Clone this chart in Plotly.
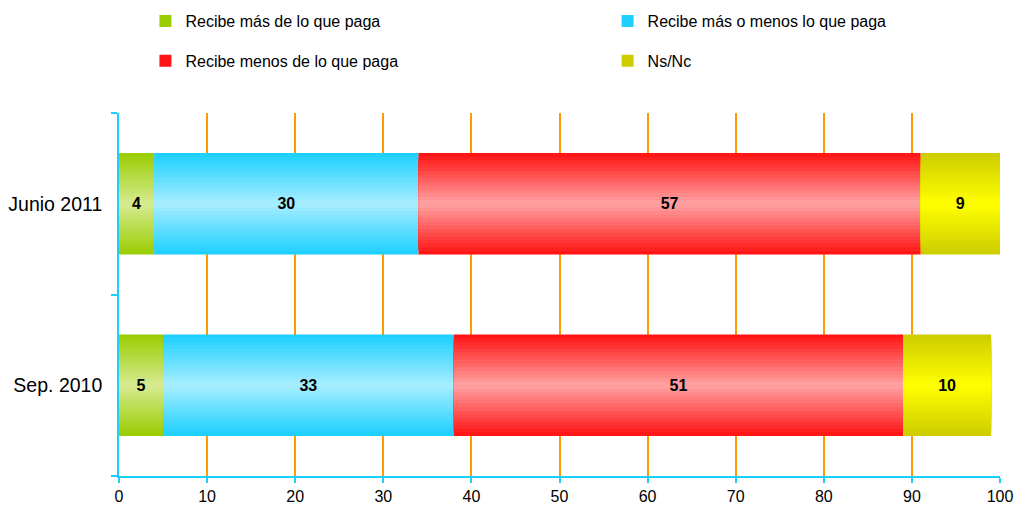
import plotly.graph_objects as go

periods = ["Sep. 2010", "Junio 2011"]
series_names = [
    "Recibe más de lo que paga",
    "Recibe más o menos lo que paga",
    "Recibe menos de lo que paga",
    "Ns/Nc",
]
values = {
    "Recibe más de lo que paga": [5, 4],
    "Recibe más o menos lo que paga": [33, 30],
    "Recibe menos de lo que paga": [51, 57],
    "Ns/Nc": [10, 9],
}
# (edge colour, centre colour) of the vertical gradient
colors = {
    "Recibe más de lo que paga": ((153, 204, 0), (214, 235, 145)),
    "Recibe más o menos lo que paga": ((26, 207, 255), (168, 238, 255)),
    "Recibe menos de lo que paga": ((255, 16, 16), (255, 163, 163)),
    "Ns/Nc": ((204, 204, 0), (255, 255, 0)),
}
legend_of = {
    "Recibe más de lo que paga": "legend",
    "Recibe menos de lo que paga": "legend",
    "Recibe más o menos lo que paga": "legend2",
    "Ns/Nc": "legend2",
}

BAR_W = 0.56
LAYERS = 14


def mix(a, b, t):
    return "rgb(%d,%d,%d)" % tuple(round(a[i] + (b[i] - a[i]) * t) for i in range(3))


fig = go.Figure()

base = [0] * len(periods)
for name in series_names:
    vals = values[name]
    edge, centre = colors[name]
    # gradient faked with stacked layers of narrowing width
    for k in range(LAYERS):
        frac = 1 - k / LAYERS
        d = 1 - (k + 0.5) / LAYERS
        fig.add_trace(go.Bar(
            y=periods, x=vals, base=base, orientation="h",
            width=BAR_W * frac,
            marker=dict(color=mix(edge, centre, 1 - d), line=dict(width=0)),
            name=name, legendgroup=name, legend=legend_of[name],
            showlegend=(k == 0), hoverinfo="skip",
        ))
    base = [b + v for b, v in zip(base, vals)]

# value labels
base = [0] * len(periods)
for name in series_names:
    vals = values[name]
    fig.add_trace(go.Bar(
        y=periods, x=vals, base=base, orientation="h", width=BAR_W,
        marker=dict(color="rgba(0,0,0,0)", line=dict(width=0)),
        text=[str(v) for v in vals], textposition="inside",
        insidetextanchor="middle", textangle=0, constraintext="none",
        textfont=dict(family="Liberation Sans", size=16, color="black", weight="bold"),
        showlegend=False, hoverinfo="skip",
    ))
    base = [b + v for b, v in zip(base, vals)]

axis_cyan = "#19CFFF"
fig.update_layout(
    barmode="overlay",
    width=1017, height=510,
    margin=dict(l=119, r=17, t=113, b=34, autoexpand=False),
    paper_bgcolor="white", plot_bgcolor="white",
    font=dict(family="Liberation Sans", size=16, color="black"),
    xaxis=dict(
        range=[0, 100], dtick=10, tick0=0,
        showgrid=True, gridcolor="#FF9900", gridwidth=1.5,
        zeroline=False,
        showline=True, linecolor=axis_cyan, linewidth=2,
        ticks="outside", tickcolor=axis_cyan, ticklen=5, tickwidth=2,
        tickfont=dict(size=16),
    ),
    yaxis=dict(
        categoryorder="array", categoryarray=periods,
        range=[-0.5, 1.5],
        showgrid=False, zeroline=False,
        showline=True, linecolor=axis_cyan, linewidth=2,
        ticks="outside", tickson="boundaries", tickcolor=axis_cyan,
        ticklen=6, tickwidth=2,
        tickfont=dict(size=19.5), ticksuffix="  ",
    ),
    legend=dict(
        orientation="v", x=0.030, y=1.30, xanchor="left", yanchor="top",
        traceorder="grouped", tracegroupgap=16,
        font=dict(size=16), bgcolor="rgba(0,0,0,0)",
    ),
    legend2=dict(
        orientation="v", x=0.5546, y=1.30, xanchor="left", yanchor="top",
        traceorder="grouped", tracegroupgap=16,
        font=dict(size=16), bgcolor="rgba(0,0,0,0)",
    ),
)

# drop the page's default body margin so the figure fills the window exactly
fig.write_html(
    "out.html",
    config={"displayModeBar": False},
    post_script="document.body.style.margin='0';document.body.style.overflow='hidden';",
)
